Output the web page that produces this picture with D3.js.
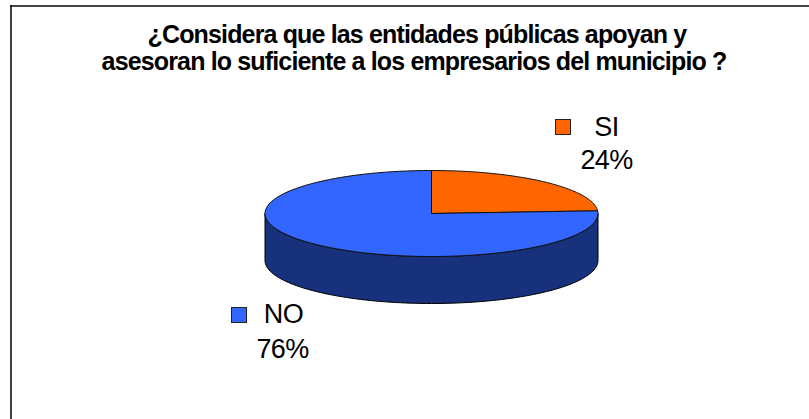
<!DOCTYPE html>
<html><head><meta charset="utf-8">
<script src="https://cdn.jsdelivr.net/npm/d3@7/dist/d3.min.js"></script>
<style>html,body{margin:0;padding:0;background:#fff}svg{display:block}</style>
</head><body><svg id="c" width="809" height="419"></svg>
<script>
const categories = ["SI", "NO"];
const values = [24, 76];
const colors = ["#ff6600", "#3366ff"];
const sideColor = "#17317c";
const titleLines = ["¿Considera que las entidades públicas apoyan y", "asesoran lo suficiente a los empresarios del municipio ?"];

const svg = d3.select("#c");
const font = "'Liberation Sans', Arial, sans-serif";
svg.append("line").attr("x1",10).attr("x2",809).attr("y1",6).attr("y2",6).attr("stroke","#444").attr("stroke-width",2);
svg.append("line").attr("x1",11).attr("x2",11).attr("y1",5).attr("y2",419).attr("stroke","#111").attr("stroke-width",1.6);

svg.append("g").selectAll("text").data(titleLines).join("text")
  .attr("x",(d,i)=>i?414:417).attr("y",(d,i)=>43+i*27)
  .attr("text-anchor","middle").attr("font-family",font).attr("font-weight","bold")
  .attr("font-size",25).attr("letter-spacing",-0.85).attr("fill","#000").text(d=>d);

const cx=431.5, cy=213.5, rx=166.5, ry=43, depth=47;
const pie=d3.pie().sort(null).value(d=>d)(values);
const px=a=>cx+rx*Math.sin(a), py=a=>cy-ry*Math.cos(a);
function slicePath(a0,a1){
  const pts=d3.range(0,101).map(i=>a0+(a1-a0)*i/100);
  return "M"+cx+","+cy+"L"+pts.map(a=>px(a)+","+py(a)).join("L")+"Z";
}
const side=d3.range(0,101).map(i=>Math.PI/2+Math.PI*i/100);
const sidePath="M"+side.map(a=>px(a)+","+py(a)).join("L")+"L"+side.slice().reverse().map(a=>px(a)+","+(py(a)+depth)).join("L")+"Z";
svg.append("path").attr("d",sidePath).attr("fill",sideColor).attr("stroke","#000").attr("stroke-width",1);
svg.append("g").selectAll("path").data(pie).join("path")
  .attr("d",d=>slicePath(d.startAngle,d.endAngle))
  .attr("fill",(d,i)=>colors[i]).attr("stroke","#111").attr("stroke-width",1).attr("stroke-linejoin","round");

const legendPos=[{sx:555,sy:119,tx:606.5,ty:136,lx:606.5,ly:169},{sx:231,sy:307,tx:283.5,ty:323,lx:282.5,ly:358}];
const g=svg.append("g").selectAll("g").data(categories).join("g");
g.append("rect").attr("x",(d,i)=>legendPos[i].sx+.5).attr("y",(d,i)=>legendPos[i].sy+.5)
  .attr("width",15).attr("height",15).attr("fill",(d,i)=>colors[i]).attr("stroke","#222");
g.append("text").attr("x",(d,i)=>legendPos[i].tx).attr("y",(d,i)=>legendPos[i].ty)
  .attr("text-anchor","middle").attr("font-family",font).attr("font-size",27).attr("letter-spacing",-0.6).text(d=>d);
g.append("text").attr("x",(d,i)=>legendPos[i].lx).attr("y",(d,i)=>legendPos[i].ly)
  .attr("text-anchor","middle").attr("font-family",font).attr("font-size",27).attr("letter-spacing",-0.6).text((d,i)=>values[i]+"%");
</script></body></html>
